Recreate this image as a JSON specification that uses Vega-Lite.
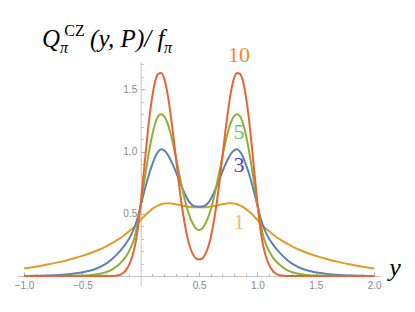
{
  "$schema": "https://vega.github.io/schema/vega-lite/v6.json",
  "width": 363,
  "height": 224,
  "autosize": {"type": "none"},
  "padding": {"left": 17, "top": 62, "right": 35, "bottom": 26},
  "background": "white",
  "config": {"view": {"stroke": null}, "axis": {"grid": false}},
  "resolve": {"scale": {"color": "independent"}, "axis": {"x": "independent", "y": "independent"}},
  "layer": [
    {
      "data": {"values": [
        {"x": -1.0, "p1": 0.062, "p3": 0.001, "p5": 0, "p10": 0},
        {"x": -0.9, "p1": 0.075, "p3": 0.002, "p5": 0, "p10": 0},
        {"x": -0.8, "p1": 0.092, "p3": 0.004, "p5": 0, "p10": 0},
        {"x": -0.7, "p1": 0.112, "p3": 0.009, "p5": 0.001, "p10": 0},
        {"x": -0.6, "p1": 0.135, "p3": 0.017, "p5": 0.002, "p10": 0},
        {"x": -0.5, "p1": 0.162, "p3": 0.03, "p5": 0.004, "p10": 0},
        {"x": -0.4, "p1": 0.195, "p3": 0.053, "p5": 0.011, "p10": 0},
        {"x": -0.3, "p1": 0.237, "p3": 0.098, "p5": 0.03, "p10": 0},
        {"x": -0.25, "p1": 0.262, "p3": 0.133, "p5": 0.05, "p10": 0.001},
        {"x": -0.2, "p1": 0.29, "p3": 0.178, "p5": 0.082, "p10": 0.005},
        {"x": -0.15, "p1": 0.322, "p3": 0.233, "p5": 0.128, "p10": 0.025},
        {"x": -0.125, "p1": 0.34, "p3": 0.265, "p5": 0.16, "p10": 0.05},
        {"x": -0.1, "p1": 0.36, "p3": 0.3, "p5": 0.2, "p10": 0.09},
        {"x": -0.075, "p1": 0.38, "p3": 0.345, "p5": 0.25, "p10": 0.15},
        {"x": -0.05, "p1": 0.4, "p3": 0.4, "p5": 0.32, "p10": 0.24},
        {"x": -0.025, "p1": 0.425, "p3": 0.475, "p5": 0.435, "p10": 0.38},
        {"x": 0.0, "p1": 0.45, "p3": 0.565, "p5": 0.575, "p10": 0.585},
        {"x": 0.025, "p1": 0.475, "p3": 0.66, "p5": 0.73, "p10": 0.82},
        {"x": 0.05, "p1": 0.5, "p3": 0.75, "p5": 0.88, "p10": 1.06},
        {"x": 0.075, "p1": 0.52, "p3": 0.83, "p5": 1.02, "p10": 1.28},
        {"x": 0.1, "p1": 0.54, "p3": 0.9, "p5": 1.14, "p10": 1.45},
        {"x": 0.125, "p1": 0.556, "p3": 0.96, "p5": 1.23, "p10": 1.57},
        {"x": 0.15, "p1": 0.568, "p3": 1.0, "p5": 1.285, "p10": 1.625},
        {"x": 0.175, "p1": 0.577, "p3": 1.018, "p5": 1.3, "p10": 1.632},
        {"x": 0.2, "p1": 0.582, "p3": 1.01, "p5": 1.285, "p10": 1.59},
        {"x": 0.225, "p1": 0.584, "p3": 0.985, "p5": 1.24, "p10": 1.49},
        {"x": 0.25, "p1": 0.584, "p3": 0.945, "p5": 1.165, "p10": 1.34},
        {"x": 0.275, "p1": 0.581, "p3": 0.895, "p5": 1.07, "p10": 1.16},
        {"x": 0.3, "p1": 0.577, "p3": 0.84, "p5": 0.96, "p10": 0.96},
        {"x": 0.325, "p1": 0.572, "p3": 0.78, "p5": 0.845, "p10": 0.76},
        {"x": 0.35, "p1": 0.567, "p3": 0.72, "p5": 0.73, "p10": 0.58},
        {"x": 0.375, "p1": 0.562, "p3": 0.665, "p5": 0.625, "p10": 0.43},
        {"x": 0.4, "p1": 0.558, "p3": 0.62, "p5": 0.535, "p10": 0.31},
        {"x": 0.425, "p1": 0.555, "p3": 0.585, "p5": 0.465, "p10": 0.225},
        {"x": 0.45, "p1": 0.553, "p3": 0.565, "p5": 0.415, "p10": 0.17},
        {"x": 0.475, "p1": 0.552, "p3": 0.558, "p5": 0.38, "p10": 0.14},
        {"x": 0.5, "p1": 0.552, "p3": 0.557, "p5": 0.37, "p10": 0.134},
        {"x": 0.525, "p1": 0.552, "p3": 0.558, "p5": 0.38, "p10": 0.14},
        {"x": 0.55, "p1": 0.553, "p3": 0.565, "p5": 0.415, "p10": 0.17},
        {"x": 0.575, "p1": 0.555, "p3": 0.585, "p5": 0.465, "p10": 0.225},
        {"x": 0.6, "p1": 0.558, "p3": 0.62, "p5": 0.535, "p10": 0.31},
        {"x": 0.625, "p1": 0.562, "p3": 0.665, "p5": 0.625, "p10": 0.43},
        {"x": 0.65, "p1": 0.567, "p3": 0.72, "p5": 0.73, "p10": 0.58},
        {"x": 0.675, "p1": 0.572, "p3": 0.78, "p5": 0.845, "p10": 0.76},
        {"x": 0.7, "p1": 0.577, "p3": 0.84, "p5": 0.96, "p10": 0.96},
        {"x": 0.725, "p1": 0.581, "p3": 0.895, "p5": 1.07, "p10": 1.16},
        {"x": 0.75, "p1": 0.584, "p3": 0.945, "p5": 1.165, "p10": 1.34},
        {"x": 0.775, "p1": 0.584, "p3": 0.985, "p5": 1.24, "p10": 1.49},
        {"x": 0.8, "p1": 0.582, "p3": 1.01, "p5": 1.285, "p10": 1.59},
        {"x": 0.825, "p1": 0.577, "p3": 1.018, "p5": 1.3, "p10": 1.632},
        {"x": 0.85, "p1": 0.568, "p3": 1.0, "p5": 1.285, "p10": 1.625},
        {"x": 0.875, "p1": 0.556, "p3": 0.96, "p5": 1.23, "p10": 1.57},
        {"x": 0.9, "p1": 0.54, "p3": 0.9, "p5": 1.14, "p10": 1.45},
        {"x": 0.925, "p1": 0.52, "p3": 0.83, "p5": 1.02, "p10": 1.28},
        {"x": 0.95, "p1": 0.5, "p3": 0.75, "p5": 0.88, "p10": 1.06},
        {"x": 0.975, "p1": 0.475, "p3": 0.66, "p5": 0.73, "p10": 0.82},
        {"x": 1.0, "p1": 0.45, "p3": 0.565, "p5": 0.575, "p10": 0.585},
        {"x": 1.025, "p1": 0.425, "p3": 0.475, "p5": 0.435, "p10": 0.38},
        {"x": 1.05, "p1": 0.4, "p3": 0.4, "p5": 0.32, "p10": 0.24},
        {"x": 1.075, "p1": 0.38, "p3": 0.345, "p5": 0.25, "p10": 0.15},
        {"x": 1.1, "p1": 0.36, "p3": 0.3, "p5": 0.2, "p10": 0.09},
        {"x": 1.125, "p1": 0.34, "p3": 0.265, "p5": 0.16, "p10": 0.05},
        {"x": 1.15, "p1": 0.322, "p3": 0.233, "p5": 0.128, "p10": 0.025},
        {"x": 1.2, "p1": 0.29, "p3": 0.178, "p5": 0.082, "p10": 0.005},
        {"x": 1.25, "p1": 0.262, "p3": 0.133, "p5": 0.05, "p10": 0.001},
        {"x": 1.3, "p1": 0.237, "p3": 0.098, "p5": 0.03, "p10": 0},
        {"x": 1.4, "p1": 0.195, "p3": 0.053, "p5": 0.011, "p10": 0},
        {"x": 1.5, "p1": 0.162, "p3": 0.03, "p5": 0.004, "p10": 0},
        {"x": 1.6, "p1": 0.135, "p3": 0.017, "p5": 0.002, "p10": 0},
        {"x": 1.7, "p1": 0.112, "p3": 0.009, "p5": 0.001, "p10": 0},
        {"x": 1.8, "p1": 0.092, "p3": 0.004, "p5": 0, "p10": 0},
        {"x": 1.9, "p1": 0.075, "p3": 0.002, "p5": 0, "p10": 0},
        {"x": 2.0, "p1": 0.062, "p3": 0.001, "p5": 0, "p10": 0}
      ]},
      "transform": [{"fold": ["p1", "p3", "p5", "p10"], "as": ["P", "Q"]}],
      "mark": {"type": "line", "interpolate": "monotone", "strokeWidth": 2},
      "encoding": {
        "x": {
          "field": "x", "type": "quantitative",
          "scale": {"domain": [-1.06, 2.05], "nice": false, "zero": false},
          "axis": {
            "title": null,
            "orient": "bottom",
            "offset": -10,
            "values": [-1.0, -0.5, 0.5, 1.0, 1.5, 2.0],
            "format": ".1f",
            "domainColor": "#c4c4c4",
            "tickColor": "#b0b0b0",
            "tickSize": -4,
            "labelColor": "#888888",
            "labelFont": "Liberation Sans",
            "labelFontSize": 10,
            "labelPadding": 8,
            "labelFlush": false,
            "labelOverlap": false
          }
        },
        "y": {
          "field": "Q", "type": "quantitative",
          "scale": {"domain": [-0.08, 1.72], "nice": false, "zero": false},
          "axis": {
            "title": null,
            "orient": "left",
            "offset": -123.7,
            "values": [0.5, 1.0, 1.5],
            "format": ".1f",
            "domainColor": "#c4c4c4",
            "tickColor": "#b0b0b0",
            "tickSize": -4,
            "labelColor": "#888888",
            "labelFont": "Liberation Sans",
            "labelFontSize": 10,
            "labelPadding": 8,
            "labelFlush": false,
            "labelOverlap": false
          }
        },
        "color": {
          "field": "P", "type": "nominal",
          "scale": {"domain": ["p1", "p3", "p5", "p10"], "range": ["#E19C24", "#5E81B5", "#8FB032", "#EB6235"]},
          "legend": null
        }
      }
    },
    {
      "data": {"values": [
        {"t": "10", "x": 0.842, "y": 1.775},
        {"t": "5", "x": 0.842, "y": 1.16},
        {"t": "3", "x": 0.842, "y": 0.892},
        {"t": "1", "x": 0.842, "y": 0.438}
      ]},
      "mark": {"type": "text", "font": "Liberation Serif", "fontSize": 22, "align": "center", "baseline": "middle"},
      "encoding": {
        "x": {
          "field": "x", "type": "quantitative",
          "axis": {
            "title": null, "orient": "bottom", "offset": -10, "domain": false, "labels": false,
            "values": [-0.9, -0.8, -0.7, -0.6, -0.4, -0.3, -0.2, -0.1, 0.1, 0.2, 0.3, 0.4, 0.6, 0.7, 0.8, 0.9, 1.1, 1.2, 1.3, 1.4, 1.6, 1.7, 1.8, 1.9],
            "tickColor": "#b8b8b8", "tickSize": -2.5
          }
        },
        "y": {
          "field": "y", "type": "quantitative",
          "axis": {
            "title": null, "orient": "left", "offset": -123.7, "domain": false, "labels": false,
            "values": [0.1, 0.2, 0.3, 0.4, 0.6, 0.7, 0.8, 0.9, 1.1, 1.2, 1.3, 1.4, 1.6, 1.7],
            "tickColor": "#b8b8b8", "tickSize": -2.5
          }
        },
        "text": {"field": "t"},
        "color": {
          "field": "t", "type": "nominal",
          "scale": {"domain": ["10", "5", "3", "1"], "range": ["#EE8A2C", "#66CC55", "#4A3FCF", "#E6C26E"]},
          "legend": null
        }
      }
    },
    {
      "data": {"values": [
        {"t": "Q", "x": -0.846, "y": 1.839},
        {"t": "(y, P)/ f", "x": -0.434, "y": 1.839}
      ]},
      "mark": {"type": "text", "font": "Liberation Serif", "fontStyle": "italic", "fontSize": 25, "align": "left", "baseline": "alphabetic", "color": "black"},
      "encoding": {
        "x": {"field": "x", "type": "quantitative", "axis": null},
        "y": {"field": "y", "type": "quantitative", "axis": null},
        "text": {"field": "t"}
      }
    },
    {
      "data": {"values": [
        {"t": "CZ", "x": -0.655, "y": 1.925}
      ]},
      "mark": {"type": "text", "font": "Liberation Serif", "fontSize": 16, "align": "left", "baseline": "alphabetic", "color": "black"},
      "encoding": {
        "x": {"field": "x", "type": "quantitative", "axis": null},
        "y": {"field": "y", "type": "quantitative", "axis": null},
        "text": {"field": "t"}
      }
    },
    {
      "data": {"values": [
        {"t": "π", "x": -0.692, "y": 1.795},
        {"t": "π", "x": 0.2, "y": 1.795}
      ]},
      "mark": {"type": "text", "font": "Liberation Serif", "fontStyle": "italic", "fontSize": 16, "align": "left", "baseline": "alphabetic", "color": "black"},
      "encoding": {
        "x": {"field": "x", "type": "quantitative", "axis": null},
        "y": {"field": "y", "type": "quantitative", "axis": null},
        "text": {"field": "t"}
      }
    },
    {
      "data": {"values": [
        {"t": "y", "x": 2.13, "y": 0.0}
      ]},
      "mark": {"type": "text", "font": "Liberation Serif", "fontStyle": "italic", "fontSize": 26, "align": "left", "baseline": "alphabetic", "color": "black"},
      "encoding": {
        "x": {"field": "x", "type": "quantitative", "axis": null},
        "y": {"field": "y", "type": "quantitative", "axis": null},
        "text": {"field": "t"}
      }
    }
  ]
}
